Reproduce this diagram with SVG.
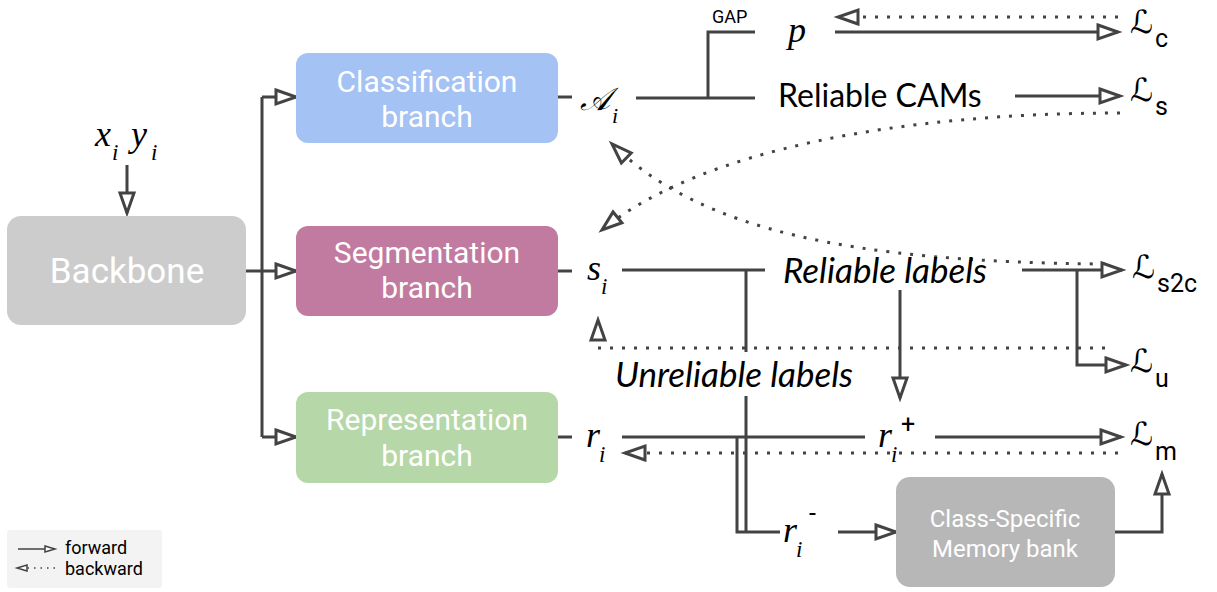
<svg xmlns="http://www.w3.org/2000/svg" width="1217" height="592" viewBox="0 0 1217 592">
<style>
.box text{fill:#fff;font-family:Roboto,"Liberation Sans",sans-serif;text-anchor:middle}
.ln{fill:none;stroke:#434343;stroke-width:3}
.dot{fill:none;stroke:#434343;stroke-width:3;stroke-dasharray:3 9}
.m{font-family:"Liberation Serif",serif;font-style:italic;fill:#000}
.L{font-family:"DejaVu Serif","DejaVu Sans",serif;font-style:italic;fill:#000;font-size:32px}
.sub{font-family:Roboto,"Liberation Sans",sans-serif;fill:#000;font-size:25px}
.lab{font-family:Lato,"Open Sans",sans-serif;fill:#000}
</style>
<defs>
<marker id="ah" markerUnits="userSpaceOnUse" markerWidth="26" markerHeight="20" refX="21" refY="8" orient="auto" overflow="visible">
<path d="M1,1 L21,8 L1,15 Z" fill="#fff" stroke="#434343" stroke-width="3"/>
</marker>
<marker id="ahs" markerUnits="userSpaceOnUse" markerWidth="14" markerHeight="12" refX="11" refY="4" orient="auto" overflow="visible">
<path d="M1,1 L11,4 L1,7 Z" fill="#fff" stroke="#434343" stroke-width="1.5"/>
</marker>
</defs>
<rect width="1217" height="592" fill="#fff"/>

<g id="connectors">
<path class="ln" d="M127,165 V213" marker-end="url(#ah)"/>
<path class="ln" d="M246,271 H262"/>
<path class="ln" d="M262,97 V437"/>
<path class="ln" d="M262,97 H296" marker-end="url(#ah)"/>
<path class="ln" d="M262,271 H296" marker-end="url(#ah)"/>
<path class="ln" d="M262,437 H296" marker-end="url(#ah)"/>
<path class="ln" d="M558,97 H572"/>
<path class="ln" d="M558,271 H572"/>
<path class="ln" d="M558,437 H572"/>
<path class="ln" d="M636,98 H755"/>
<path class="ln" d="M708,98 V32 H755"/>
<path class="ln" d="M835,32 H1118" marker-end="url(#ah)"/>
<path class="dot" d="M1118,17 H838" marker-end="url(#ah)"/>
<path class="ln" d="M1015,96 H1120" marker-end="url(#ah)"/>
<path class="dot" d="M1120,113 C900,113 700,150 602,230" marker-end="url(#ah)"/>
<path class="dot" d="M1105,264 C850,262 700,230 612,144" marker-end="url(#ah)"/>
<path class="ln" d="M622,270 H765"/>
<path class="ln" d="M1022,270 H1122" marker-end="url(#ah)"/>
<path class="ln" d="M1077,270 V365 H1126" marker-end="url(#ah)"/>
<path class="ln" d="M900,290 V398" marker-end="url(#ah)"/>
<path class="dot" d="M1105,348 H598 V320" marker-end="url(#ah)"/>
<path class="ln" d="M746,270 V532"/>
<path class="ln" d="M622,437 H865"/>
<path class="ln" d="M737,437 V532 H780"/>
<path class="ln" d="M935,437 H1121" marker-end="url(#ah)"/>
<path class="dot" d="M1118,453 H625" marker-end="url(#ah)"/>
<path class="ln" d="M838,532 H896" marker-end="url(#ah)"/>
<path class="ln" d="M1115,532 H1162 V474" marker-end="url(#ah)"/>
</g>

<rect x="610" y="352" width="252" height="44" fill="#fff"/>

<g id="backbone" class="box">
<rect x="7" y="216" width="239" height="109" rx="14" fill="#cccccc"/>
<text x="127" y="283" font-size="35">Backbone</text>
</g>
<g id="classification" class="box">
<rect x="296" y="53" width="262" height="90" rx="12" fill="#a4c2f4"/>
<text x="427" y="92" font-size="30">Classification</text>
<text x="427" y="127" font-size="30">branch</text>
</g>
<g id="segmentation" class="box">
<rect x="296" y="226" width="262" height="90" rx="12" fill="#c27ba0"/>
<text x="427" y="263" font-size="30">Segmentation</text>
<text x="427" y="298" font-size="30">branch</text>
</g>
<g id="representation" class="box">
<rect x="296" y="392" width="262" height="91" rx="12" fill="#b6d7a8"/>
<text x="427" y="430" font-size="30">Representation</text>
<text x="427" y="466" font-size="30">branch</text>
</g>
<g id="memory" class="box">
<rect x="896" y="477" width="219" height="110" rx="14" fill="#b7b7b7"/>
<text x="1005" y="527" font-size="24">Class-Specific</text>
<text x="1005" y="557" font-size="24">Memory bank</text>
</g>

<g id="input">
<text class="m" x="95" y="146" font-size="36">x</text>
<text class="m" x="112" y="160" font-size="23">i</text>
<text class="m" x="131" y="146" font-size="36">y</text>
<text class="m" x="151" y="160" font-size="23">i</text>
</g>

<g id="Ai">
<text class="L" x="580" y="110" font-size="38">𝒜</text>
<text class="m" x="612" y="123" font-size="22">i</text>
</g>
<g id="p"><text class="m" x="788" y="42" font-size="36">p</text></g>
<g id="gap"><text x="712" y="23" font-size="18" font-family="Roboto,sans-serif">GAP</text></g>
<g id="cams"><text class="lab" x="778" y="107" font-size="32">Reliable CAMs</text></g>
<g id="si">
<text class="m" x="587" y="280" font-size="36">s</text>
<text class="m" x="601" y="294" font-size="23">i</text>
</g>
<g id="rel"><text class="lab" x="783" y="283" font-size="35" font-style="italic">Reliable labels</text></g>
<g id="unrel"><text class="lab" x="615" y="387" font-size="35" font-style="italic">Unreliable labels</text></g>
<g id="ri">
<text class="m" x="586" y="447" font-size="36">r</text>
<text class="m" x="599" y="462" font-size="23">i</text>
</g>
<g id="rip">
<text class="m" x="878" y="447" font-size="36">r</text>
<text class="m" x="891" y="462" font-size="23">i</text>
<text class="sub" x="901" y="433" font-size="20">+</text>
</g>
<g id="rim">
<text class="m" x="783" y="542" font-size="36">r</text>
<text class="m" x="796" y="557" font-size="23">i</text>
<text class="sub" x="809" y="522" font-size="20">-</text>
</g>

<g id="Lc"><text class="L" x="1130" y="33">ℒ</text><text class="sub" x="1155" y="47">c</text></g>
<g id="Ls"><text class="L" x="1130" y="101">ℒ</text><text class="sub" x="1155" y="115">s</text></g>
<g id="Ls2c"><text class="L" x="1132" y="278">ℒ</text><text class="sub" x="1157" y="292">s2c</text></g>
<g id="Lu"><text class="L" x="1130" y="372">ℒ</text><text class="sub" x="1155" y="387">u</text></g>
<g id="Lm"><text class="L" x="1130" y="445">ℒ</text><text class="sub" x="1155" y="460">m</text></g>

<g id="legend">
<rect x="7" y="530" width="155" height="58" rx="3" fill="#f3f3f3"/>
<path d="M18,549 H55" stroke="#434343" stroke-width="1.5" fill="none" marker-end="url(#ahs)"/>
<path d="M55,568 H17" stroke="#434343" stroke-width="1.5" stroke-dasharray="1.5 5" fill="none" marker-end="url(#ahs)"/>
<text x="65" y="554" font-family="Roboto,sans-serif" font-size="18">forward</text>
<text x="65" y="575" font-family="Roboto,sans-serif" font-size="18">backward</text>
</g>
</svg>
